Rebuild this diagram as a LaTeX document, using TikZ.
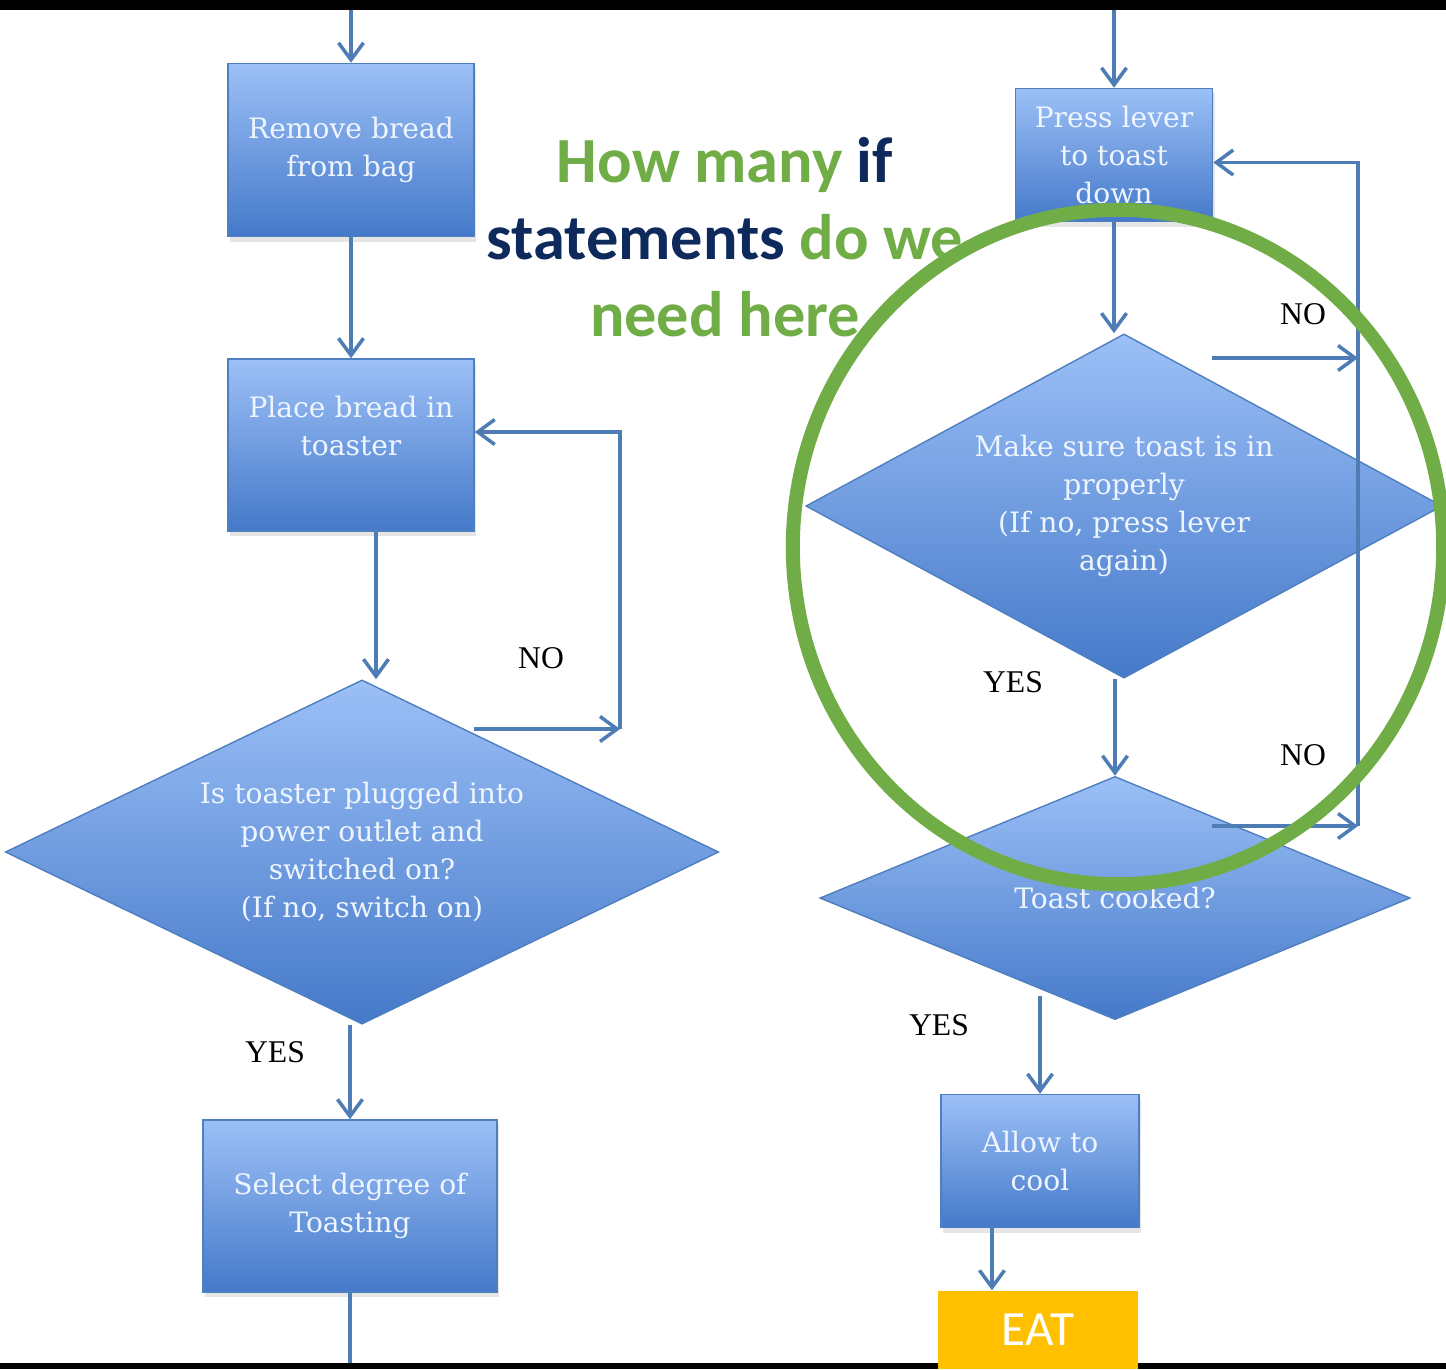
\documentclass[tikz,border=0pt]{standalone}
\usepackage{fontspec}
\setmainfont{DejaVu Serif}
\newfontfamily\labelfont{Liberation Serif}
\newfontfamily\titlefont{Carlito}
\usetikzlibrary{shapes.geometric,arrows.meta,shadows}
\definecolor{boxtop}{HTML}{9CC0F7}
\definecolor{boxbot}{HTML}{4579C9}
\definecolor{boxline}{HTML}{4F7FBF}
\definecolor{arrowblue}{HTML}{4E7DB6}
\definecolor{boxtext}{HTML}{EEF5FF}
\definecolor{qgreen}{HTML}{70AD47}
\definecolor{qnavy}{HTML}{0E2A5C}
\definecolor{eatorange}{HTML}{FFC000}

\begin{document}
\begin{tikzpicture}[x=0.01cm,y=-0.01cm,
        stepbox/.style={rectangle,draw=boxline,line width=0.4pt,
                    top color=boxtop,bottom color=boxbot,text=boxtext,
                    align=center,inner sep=0pt,font=\fontsize{8}{10.8}\selectfont,
                    drop shadow={opacity=0.2,shadow xshift=0.02cm,shadow yshift=-0.05cm}},
        decision/.style={diamond,draw=boxline,line width=0.4pt,
                    top color=boxtop,bottom color=boxbot,text=boxtext,
                    align=center,inner sep=0pt,font=\fontsize{8}{10.8}\selectfont},
        arr/.style={draw=arrowblue,line width=1pt,
                    -{Straight Barb[length=0.17cm,width=0.25cm]}},
        flow/.style={draw=arrowblue,line width=1pt},
        answer/.style={font=\labelfont\fontsize{9}{10}\selectfont,text=black}]
      \fill[white] (0,0) rectangle (1446,1369);
      \fill[black] (0,0) rectangle (1446,10);
      \fill[black] (0,1363) rectangle (1446,1369);
      \useasboundingbox (0,0) rectangle (1446,1369);

      % left column
      \node[stepbox,minimum width=2.46cm,minimum height=1.73cm] (remove) at (351,150) {Remove bread\\from bag};
      \node[stepbox,minimum width=2.46cm,minimum height=1.72cm] (place)  at (351,445) {Place bread in\\toaster\\\mbox{}};
      \node[decision,minimum width=7.13cm,minimum height=3.44cm,aspect=2.07] (plugged) at (362,852)
          {Is toaster plugged into\\power outlet and\\switched on?\\(If no, switch on)};
      \node[stepbox,minimum width=2.94cm,minimum height=1.72cm] (select) at (350,1206) {Select degree of\\Toasting};

      % right column
      \node[stepbox,minimum width=1.97cm,minimum height=1.33cm] (press) at (1114,155) {Press lever\\to toast\\down};
      \node[decision,minimum width=6.36cm,minimum height=3.44cm,aspect=1.85] (placed) at (1124,506)
          {Make sure toast is in\\properly\\(If no, press lever\\again)};
      \node[decision,minimum width=5.90cm,minimum height=2.43cm,aspect=2.4] (cooked) at (1115,898) {Toast cooked?};
      \node[stepbox,minimum width=1.98cm,minimum height=1.33cm] (cool) at (1040,1161) {Allow to\\cool};
      \node[rectangle,fill=eatorange,text=white,minimum width=1.99cm,minimum height=0.78cm,
            font=\titlefont\fontsize{14}{16}\selectfont] (eat) at (1038,1330) {EAT};

      \node[align=center,text=qgreen,font=\titlefont\bfseries\fontsize{18.3}{21.9}\selectfont] (question) at (725,237)
          {How many \textcolor{qnavy}{if}\\\textcolor{qnavy}{statements} do we\\need here};

      \node[answer] (pluggedno)  at (541,658)  {NO};
      \node[answer] (pluggedyes) at (275,1052) {YES};
      \node[answer] (placedno)   at (1303,314) {NO};
      \node[answer] (placedyes)  at (1013,682) {YES};
      \node[answer] (cookedno)   at (1303,755) {NO};
      \node[answer] (cookedyes)  at (939,1025) {YES};

      \coordinate (topleft)  at (352,10);
      \coordinate (botleft)  at (352,1363);
      \coordinate (topright) at (1114,10);
      \coordinate (plugloopa) at (474,729);
      \coordinate (plugloopb) at (620,729);
      \coordinate (placedloopa) at (1212,358);
      \coordinate (placedloopb) at (1358,358);
      \coordinate (cookedloopa) at (1212,826);
      \coordinate (cookedloopb) at (1358,826);
      \coordinate (cookedout) at (1040,996);

      \draw[arr] (remove.north |- topleft) -- (remove.north);
      \draw[arr] (remove.south) -- (place.north);
      \draw[arr] ([xshift=0.25cm]place.south) -- ([xshift=0.25cm]place.south |- plugged.north);
      \draw[arr] (plugloopa) -- (plugloopb);
      \draw[arr] (plugloopb) -- ([yshift=0.13cm]place.east -| plugloopb) -- ([yshift=0.13cm]place.east);
      \draw[arr] (select.north |- plugged.south) -- (select.north);
      \draw[flow] (select.south) -- (select.south |- botleft);

      \draw[arr] (press.north |- topright) -- (press.north);
      \draw[arr] (press.south) -- (press.south |- placed.north);
      \draw[arr] (placedloopa) -- (placedloopb);
      \draw[arr] (cookedloopa) -- (cookedloopb);
      \draw[arr] (cookedloopb) -- ([yshift=-0.075cm]press.east -| cookedloopb) -- ([yshift=-0.075cm]press.east);
      \draw[arr] (cooked.north |- placed.south) -- (cooked.north);
      \draw[arr] (cookedout) -- (cookedout |- cool.north);
      \draw[arr] ([xshift=-0.48cm]cool.south) -- ([xshift=-0.48cm]cool.south |- eat.north);

      \draw[qgreen,line width=0.14cm] (1118,547) ellipse [x radius=3.25cm,y radius=3.37cm];
    \end{tikzpicture}
\end{document}
